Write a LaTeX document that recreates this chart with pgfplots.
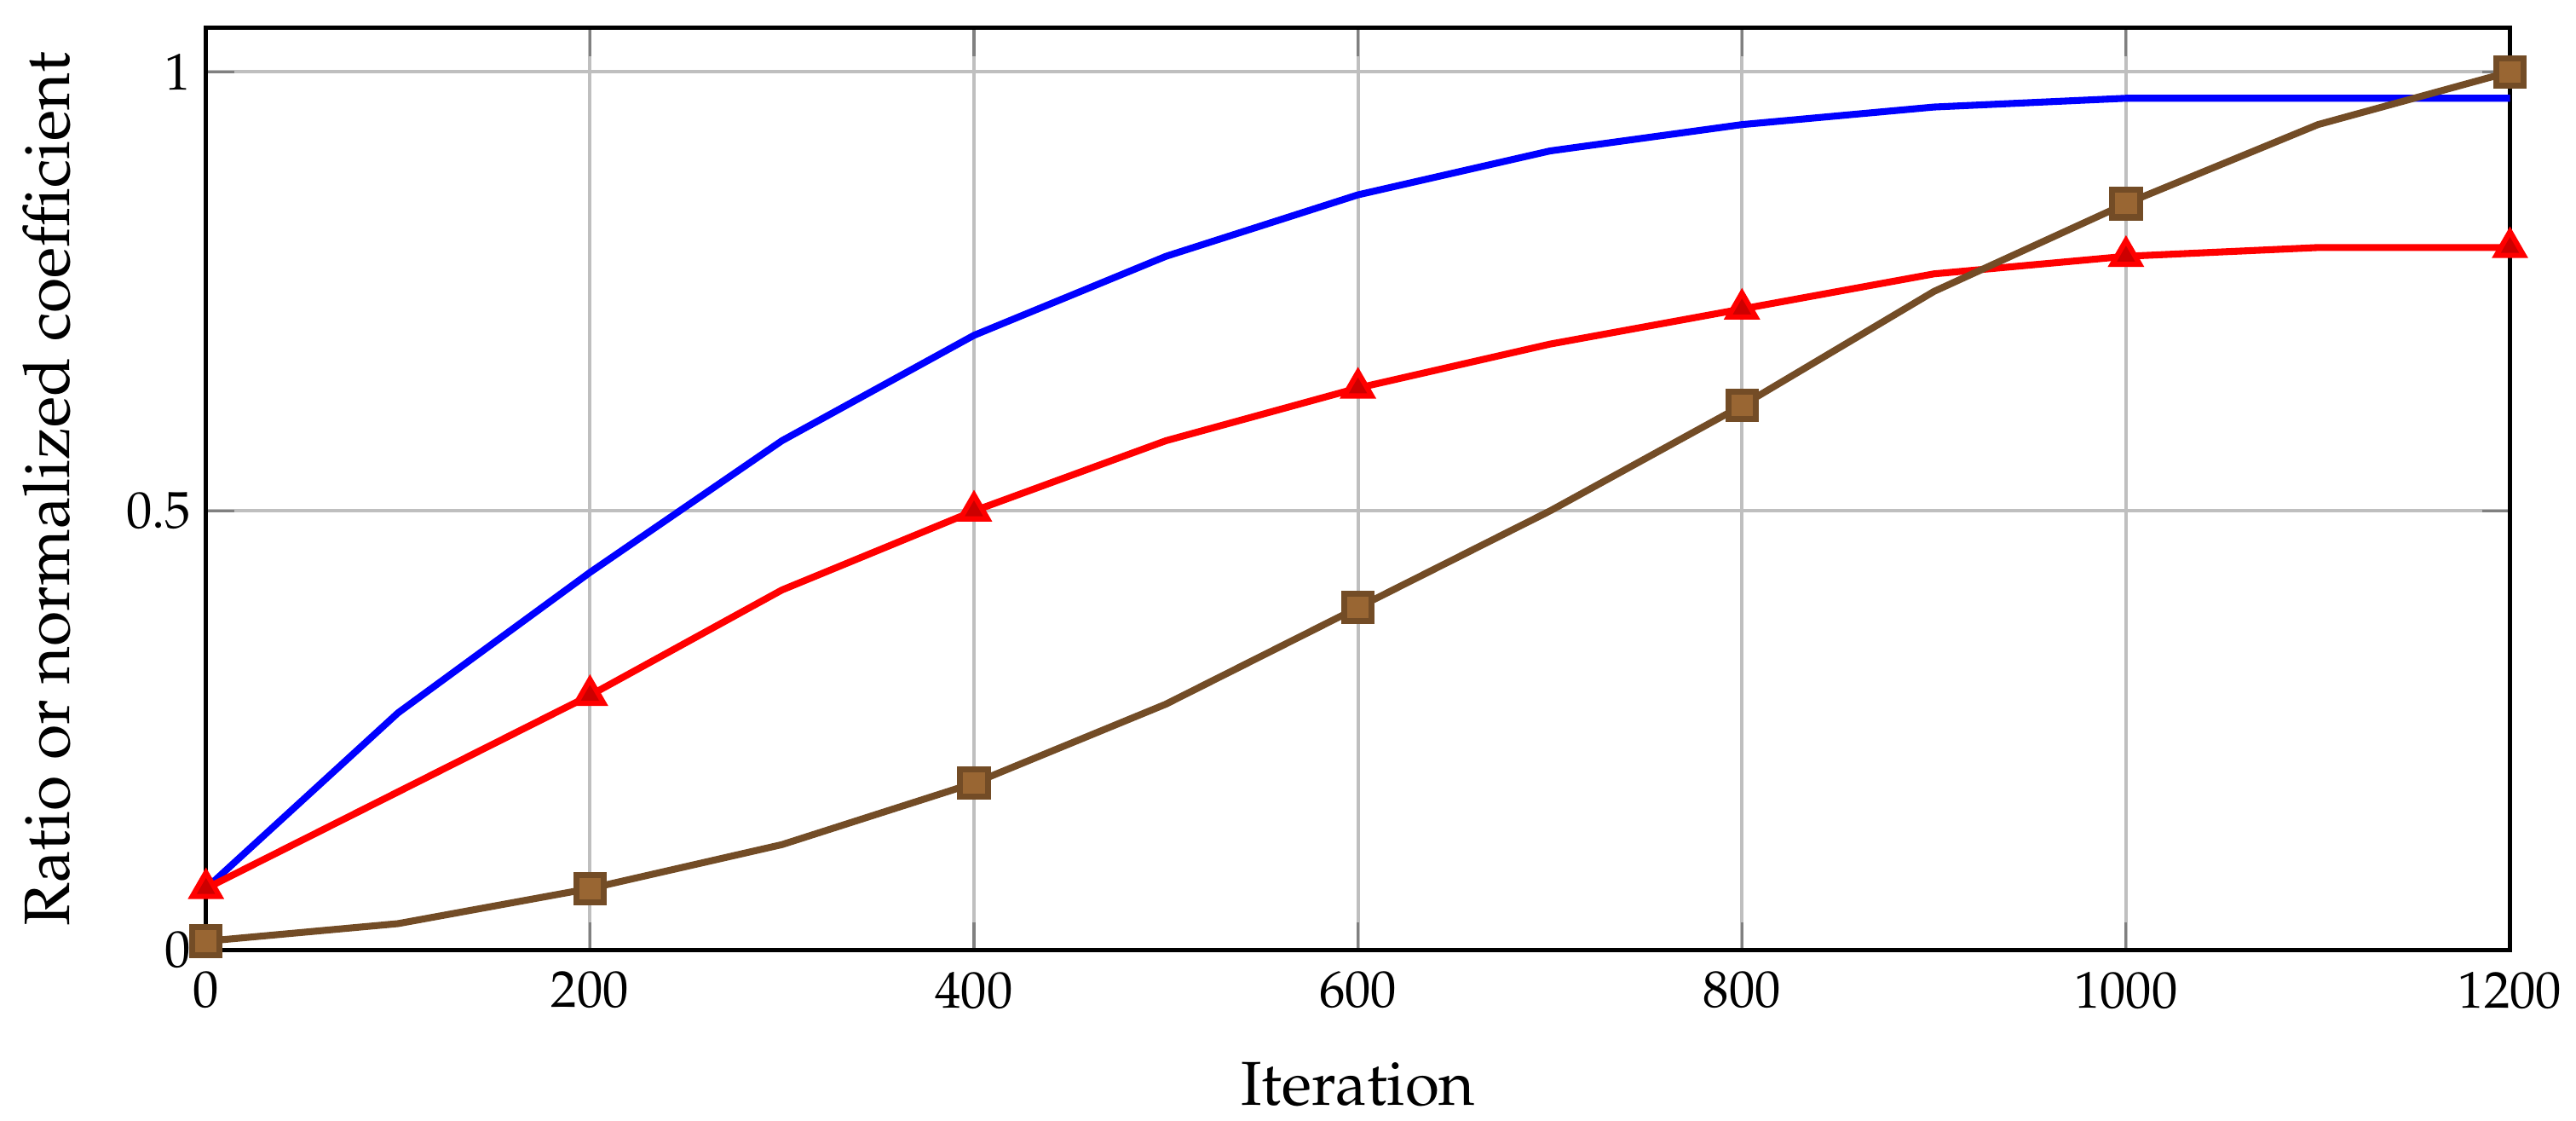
\documentclass[border=0pt]{standalone}
\usepackage[T1]{fontenc}
\usepackage{mathpazo}
\usepackage{pgfplots}
\pgfplotsset{compat=1.18}
\begin{document}
\begin{tikzpicture}
\begin{axis}[
  scale only axis,
  width=535pt, height=214pt,
  xmin=0, xmax=1200, ymin=0, ymax=1.05,
  xtick={0,200,400,600,800,1000,1200},
  ytick={0,0.5,1},
  /pgf/number format/1000 sep={},
  grid=major,
  major grid style={black!25, line width=0.8pt},
  major tick length=6.5pt,
  tick style={gray, semithick},
  axis line style={line width=1pt},
  xlabel={\Large Iteration},
  ylabel={\fontsize{14.9}{18}\selectfont Ratio or normalized coefficient},
  xlabel style={yshift=-5.5pt},
  ylabel style={yshift=6pt},
  tick label style={font=\large},
  xticklabel style={yshift=-1.5pt},
]
\addplot[blue, line width=1.6pt] coordinates {
(0,0.07) (100,0.27) (200,0.43) (300,0.58) (400,0.70) (500,0.79) (600,0.86)
(700,0.91) (800,0.94) (900,0.96) (1000,0.97) (1100,0.97) (1200,0.97)};
\addplot[red, line width=1.6pt, mark=triangle*, mark repeat=2, mark size=3.7pt,
  mark options={solid, fill=red!80!black, line width=1.2pt}] coordinates {
(0,0.07) (100,0.18) (200,0.29) (300,0.41) (400,0.50) (500,0.58) (600,0.64)
(700,0.69) (800,0.73) (900,0.77) (1000,0.79) (1100,0.80) (1200,0.80)};
\addplot[brown!60!black, line width=1.6pt, mark=square*, mark repeat=2, mark size=3.2pt,
  mark options={solid, fill=brown!80!black, line width=1.4pt}] coordinates {
(0,0.01) (100,0.03) (200,0.07) (300,0.12) (400,0.19) (500,0.28) (600,0.39)
(700,0.50) (800,0.62) (900,0.75) (1000,0.85) (1100,0.94) (1200,1.00)};
\end{axis}
\path (current bounding box.north west) ++(-2pt,6pt);
\end{tikzpicture}
\end{document}
